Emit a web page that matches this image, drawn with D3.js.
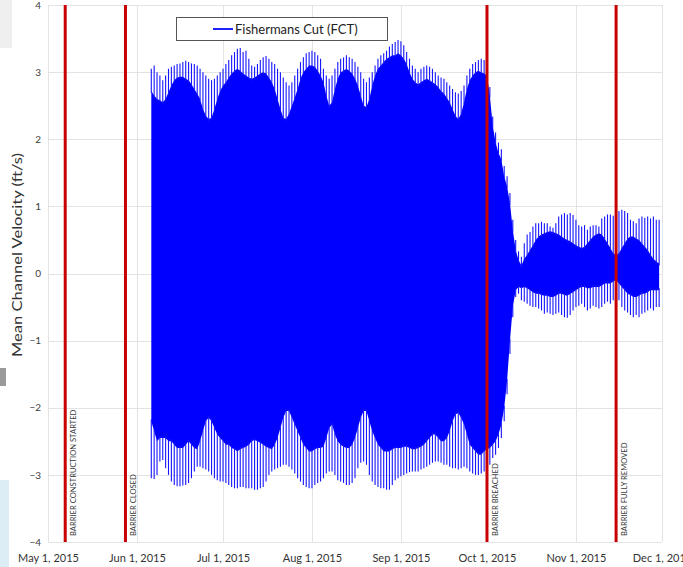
<!DOCTYPE html>
<html>
<head>
<meta charset="utf-8">
<script src="https://cdn.jsdelivr.net/npm/d3@7"></script>
<style>
  html, body { margin: 0; padding: 0; background: #fff; }
  svg { display: block; font-family: Lato, "Open Sans", sans-serif; }
</style>
</head>
<body>
<svg id="chart" width="683" height="567"></svg>
<script>
// ---------------- DATA ----------------
// Daily values starting Jun 6, 2015 (one value per day through Nov 30, 2015)
const seriesName = "Fishermans Cut (FCT)";
const seriesStart = "2015-06-06";

// daily maximum (flood peak) velocity, ft/s
const velMax = [
  3.05, 3.10, 3.00, 2.95, 2.88, 2.95, 3.05, 3.08, 3.10, 3.12,
  3.13, 3.15, 3.17, 3.15, 3.13, 3.12, 3.10, 3.05, 3.00, 2.95,
  2.90, 2.88, 2.90, 2.95, 3.00, 3.05, 3.12, 3.18, 3.25, 3.30,
  3.35, 3.36, 3.30, 3.32, 3.20, 3.10, 3.08, 3.12, 3.18, 3.22,
  3.24, 3.20, 3.15, 3.12, 3.05, 3.00, 2.92, 2.85, 2.80, 2.85,
  2.95, 3.05, 3.15, 3.22, 3.28, 3.30, 3.32, 3.30, 3.25, 3.20,
  3.05, 2.95, 2.90, 2.95, 3.05, 3.15, 3.20, 3.22, 3.25, 3.22,
  3.20, 3.15, 3.08, 3.00, 2.90, 2.85, 2.92, 3.00, 3.10, 3.20,
  3.25, 3.28, 3.32, 3.38, 3.42, 3.45, 3.48, 3.46, 3.40, 3.30,
  3.20, 3.10, 3.05, 3.00, 3.05, 3.08, 3.10, 3.08, 3.05, 3.00,
  2.95, 2.92, 2.90, 2.85, 2.80, 2.75, 2.70, 2.68, 2.72, 2.80,
  2.95, 3.05, 3.12, 3.15, 3.18, 3.20, 3.18, 3.10, 2.78, 2.34,
  2.10, 1.95, 1.85, 1.60, 1.45, 1.20, 0.80, 0.50, 0.33, 0.25,
  0.45, 0.58, 0.62, 0.70, 0.75, 0.75, 0.77, 0.75, 0.75, 0.70,
  0.68, 0.75, 0.85, 0.88, 0.90, 0.88, 0.90, 0.87, 0.80, 0.72,
  0.70, 0.72, 0.65, 0.70, 0.72, 0.72, 0.70, 0.82, 0.85, 0.88,
  0.88, 0.86, 0.85, 0.93, 0.95, 0.93, 0.90, 0.80, 0.78, 0.75,
  0.82, 0.85, 0.83, 0.85, 0.82, 0.85, 0.80, 0.80
];
// daily lower high tide (top of the dense band), ft/s
const velHiCore = [
  2.72, 2.65, 2.60, 2.58, 2.55, 2.60, 2.70, 2.80, 2.88, 2.92,
  2.93, 2.93, 2.90, 2.88, 2.82, 2.75, 2.68, 2.60, 2.45, 2.35,
  2.30, 2.32, 2.45, 2.60, 2.72, 2.80, 2.85, 2.92, 2.98, 3.02,
  3.05, 3.02, 2.98, 2.95, 2.92, 2.90, 2.92, 2.95, 2.98, 3.00,
  2.98, 2.92, 2.85, 2.75, 2.60, 2.45, 2.32, 2.30, 2.38, 2.50,
  2.62, 2.75, 2.90, 3.00, 3.05, 3.10, 3.10, 3.08, 3.02, 2.95,
  2.85, 2.65, 2.50, 2.55, 2.75, 2.90, 3.00, 3.02, 3.05, 3.02,
  2.98, 2.90, 2.80, 2.65, 2.50, 2.48, 2.60, 2.80, 2.95, 3.05,
  3.10, 3.15, 3.20, 3.22, 3.25, 3.25, 3.28, 3.25, 3.20, 3.12,
  3.00, 2.90, 2.85, 2.82, 2.85, 2.88, 2.90, 2.88, 2.85, 2.82,
  2.78, 2.72, 2.68, 2.62, 2.55, 2.45, 2.35, 2.30, 2.38, 2.55,
  2.75, 2.88, 2.95, 3.00, 3.02, 3.00, 2.98, 2.95, 2.65, 2.20,
  1.95, 1.80, 1.70, 1.45, 1.30, 1.05, 0.65, 0.35, 0.20, 0.12,
  0.22, 0.28, 0.35, 0.42, 0.50, 0.55, 0.58, 0.60, 0.62, 0.63,
  0.62, 0.60, 0.58, 0.55, 0.52, 0.50, 0.48, 0.45, 0.42, 0.40,
  0.38, 0.40, 0.45, 0.50, 0.55, 0.58, 0.60, 0.58, 0.52, 0.45,
  0.38, 0.30, 0.28, 0.30, 0.38, 0.45, 0.52, 0.55, 0.55, 0.52,
  0.50, 0.45, 0.40, 0.35, 0.28, 0.22, 0.18, 0.15
];
// daily higher low tide (bottom of the dense band), ft/s
const velLoCore = [
  -2.20, -2.35, -2.50, -2.45, -2.45, -2.45, -2.50, -2.50, -2.55, -2.60,
  -2.60, -2.60, -2.55, -2.50, -2.55, -2.60, -2.62, -2.50, -2.35, -2.20,
  -2.15, -2.20, -2.30, -2.40, -2.45, -2.50, -2.55, -2.55, -2.60, -2.62,
  -2.65, -2.62, -2.60, -2.58, -2.55, -2.50, -2.48, -2.50, -2.52, -2.55,
  -2.58, -2.60, -2.62, -2.55, -2.45, -2.30, -2.15, -2.05, -2.05, -2.15,
  -2.25, -2.35, -2.45, -2.55, -2.60, -2.65, -2.65, -2.62, -2.60, -2.60,
  -2.58, -2.45, -2.30, -2.25, -2.40, -2.50, -2.55, -2.58, -2.60, -2.60,
  -2.55, -2.45, -2.30, -2.15, -2.05, -2.05, -2.20, -2.35, -2.45, -2.55,
  -2.60, -2.65, -2.65, -2.65, -2.62, -2.60, -2.60, -2.60, -2.58, -2.58,
  -2.60, -2.62, -2.62, -2.60, -2.58, -2.55, -2.50, -2.45, -2.40, -2.40,
  -2.45, -2.50, -2.50, -2.45, -2.35, -2.20, -2.10, -2.08, -2.15, -2.25,
  -2.40, -2.55, -2.60, -2.65, -2.70, -2.70, -2.65, -2.62, -2.60, -2.55,
  -2.50, -2.40, -2.25, -2.00, -1.60, -1.00, -0.50, -0.25, -0.20, -0.22,
  -0.20, -0.22, -0.25, -0.28, -0.30, -0.30, -0.32, -0.33, -0.33, -0.35,
  -0.35, -0.33, -0.30, -0.30, -0.32, -0.33, -0.30, -0.28, -0.25, -0.22,
  -0.20, -0.20, -0.22, -0.22, -0.20, -0.20, -0.20, -0.18, -0.15, -0.15,
  -0.15, -0.12, -0.10, -0.15, -0.20, -0.25, -0.30, -0.32, -0.35, -0.35,
  -0.33, -0.30, -0.30, -0.28, -0.25, -0.25, -0.25, -0.25
];
// daily minimum (ebb peak) velocity, ft/s
const velMin = [
  -3.05, -3.06, -3.00, -2.80, -2.78, -2.90, -3.00, -3.10, -3.15, -3.17,
  -3.17, -3.16, -3.15, -3.12, -3.05, -2.95, -2.88, -2.88, -2.90, -2.92,
  -2.95, -3.00, -3.05, -3.08, -3.10, -3.10, -3.12, -3.15, -3.18, -3.20,
  -3.20, -3.18, -3.18, -3.20, -3.20, -3.20, -3.22, -3.22, -3.20, -3.18,
  -3.10, -3.00, -2.95, -2.92, -2.90, -2.88, -2.85, -2.85, -2.88, -2.92,
  -2.98, -3.05, -3.10, -3.15, -3.18, -3.20, -3.20, -3.15, -3.12, -3.10,
  -3.05, -2.98, -2.95, -2.95, -3.00, -3.08, -3.10, -3.12, -3.15, -3.15,
  -3.12, -3.05, -2.90, -2.82, -2.80, -2.85, -3.00, -3.10, -3.15, -3.18,
  -3.20, -3.20, -3.22, -3.22, -3.15, -3.08, -3.05, -3.02, -3.00, -2.98,
  -2.96, -2.95, -2.95, -2.95, -2.92, -2.90, -2.88, -2.85, -2.82, -2.80,
  -2.80, -2.82, -2.85, -2.85, -2.88, -2.90, -2.90, -2.92, -2.90, -2.88,
  -2.90, -2.95, -2.98, -3.00, -3.00, -2.98, -2.95, -2.90, -2.85, -2.75,
  -2.70, -2.60, -2.45, -2.20, -1.80, -1.20, -0.65, -0.35, -0.30, -0.40,
  -0.42, -0.45, -0.48, -0.50, -0.50, -0.52, -0.55, -0.60, -0.58, -0.60,
  -0.62, -0.60, -0.58, -0.62, -0.65, -0.66, -0.62, -0.55, -0.50, -0.48,
  -0.45, -0.50, -0.55, -0.52, -0.48, -0.50, -0.52, -0.50, -0.45, -0.42,
  -0.45, -0.40, -0.30, -0.40, -0.50, -0.55, -0.58, -0.62, -0.65, -0.62,
  -0.65, -0.60, -0.58, -0.55, -0.52, -0.55, -0.50, -0.50
];

// events (red vertical lines)
const eventDates  = ["2015-05-07", "2015-05-28", "2015-10-01", "2015-11-15"];
const eventLabels = ["BARRIER CONSTRUCTION STARTED", "BARRIER CLOSED", "BARRIER BREACHED", "BARRIER FULLY REMOVED"];

// axes
const xDomain = ["2015-05-01", "2015-12-01"];
const yTicks = [-4, -3, -2, -1, 0, 1, 2, 3, 4];
const yTitle = "Mean Channel Velocity (ft/s)";

// ---------------- DRAWING ----------------
const parse = d3.timeParse("%Y-%m-%d");
const svg = d3.select("#chart");
const M = { left: 48, right: 662, top: 5, bottom: 542 };

// screenshot edge artifacts
svg.append("rect").attr("x", 0).attr("y", 0).attr("width", 12).attr("height", 48).attr("fill", "#efefef");
svg.append("rect").attr("x", 0).attr("y", 480).attr("width", 9).attr("height", 87).attr("fill", "#dcedf5");
svg.append("rect").attr("x", 0).attr("y", 368).attr("width", 6).attr("height", 18).attr("fill", "#9a9a9a");

const x = d3.scaleTime().domain(xDomain.map(parse)).range([M.left, M.right]);
const y = d3.scaleLinear().domain([-4, 4]).range([M.bottom, M.top]);

const monthTicks = d3.timeMonth.range(parse(xDomain[0]), d3.timeDay.offset(parse(xDomain[1]), 1));

// grid
const grid = svg.append("g").attr("stroke", "#e3e3e3").attr("stroke-width", 1);
grid.selectAll("line.h").data(yTicks).join("line")
  .attr("x1", M.left).attr("x2", M.right)
  .attr("y1", d => Math.round(y(d)) + 0.5).attr("y2", d => Math.round(y(d)) + 0.5);
grid.selectAll("line.v").data(monthTicks).join("line")
  .attr("x1", d => Math.round(x(d)) + 0.5).attr("x2", d => Math.round(x(d)) + 0.5)
  .attr("y1", M.top).attr("y2", M.bottom);

// data
const start = parse(seriesStart);
const rows = velMax.map((v, i) => ({
  date: d3.timeDay.offset(start, i),
  max: v, hi: velHiCore[i], lo: velLoCore[i], min: velMin[i]
}));

svg.append("clipPath").attr("id", "clip").append("rect")
  .attr("x", M.left).attr("y", M.top).attr("width", M.right - M.left).attr("height", M.bottom - M.top);

const dataG = svg.append("g").attr("clip-path", "url(#clip)");
const area = d3.area().x(d => x(d.date)).y0(d => y(d.lo)).y1(d => y(d.hi));
dataG.append("path").datum(rows).attr("d", area).attr("fill", "#0000ff");

dataG.selectAll("line.up").data(rows).join("line")
  .attr("x1", d => x(d.date)).attr("x2", d => x(d.date))
  .attr("y1", d => y(d.hi) + 2).attr("y2", d => y(d.max))
  .attr("stroke", "#1515ff").attr("stroke-width", 1.1);
dataG.selectAll("line.dn").data(rows).join("line")
  .attr("x1", d => x(d.date)).attr("x2", d => x(d.date))
  .attr("y1", d => y(d.lo) - 2).attr("y2", d => y(d.min))
  .attr("stroke", "#1515ff").attr("stroke-width", 1.1);

// events
const events = eventDates.map((d, i) => ({ date: parse(d), label: eventLabels[i] }));
svg.selectAll("line.ev").data(events).join("line")
  .attr("x1", d => x(d.date)).attr("x2", d => x(d.date))
  .attr("y1", M.top).attr("y2", M.bottom)
  .attr("stroke", "#c80000").attr("stroke-width", 3);
svg.selectAll("text.ev").data(events).join("text")
  .attr("transform", d => `translate(${x(d.date) + 11},${M.bottom - 6}) rotate(-90)`)
  .attr("font-size", 7.6).attr("fill", "#3a3a3a")
  .text(d => d.label);

// y axis labels
const yAxis = d3.axisLeft(y).tickValues(yTicks).tickSize(0).tickPadding(7).tickFormat(d3.format("d"));
const yg = svg.append("g").attr("transform", `translate(${M.left},0)`).call(yAxis);
yg.select(".domain").remove();
yg.selectAll("text").attr("font-size", 10).attr("fill", "#404040").attr("font-family", "Lato, sans-serif");

// x axis labels
const xAxis = d3.axisBottom(x).tickValues(monthTicks).tickSize(0).tickPadding(12).tickFormat(d3.timeFormat("%b %-d, %Y"));
const xg = svg.append("g").attr("transform", `translate(0,${M.bottom})`).call(xAxis);
xg.select(".domain").remove();
xg.selectAll("text").attr("font-size", 11).attr("fill", "#333").attr("font-family", "Lato, sans-serif");

// y title
svg.append("text")
  .attr("transform", `translate(22,255) rotate(-90)`)
  .attr("text-anchor", "middle").attr("font-size", 14).attr("fill", "#333")
  .attr("textLength", 204).attr("lengthAdjust", "spacingAndGlyphs")
  .text(yTitle);

// legend
const lg = svg.append("g");
lg.append("rect").attr("x", 176.5).attr("y", 17.5).attr("width", 211).attr("height", 23)
  .attr("fill", "#fff").attr("stroke", "#555").attr("stroke-width", 1);
lg.append("line").attr("x1", 213).attr("x2", 233).attr("y1", 29).attr("y2", 29)
  .attr("stroke", "#2020ff").attr("stroke-width", 2);
lg.append("text").attr("x", 235).attr("y", 34).attr("font-size", 13).attr("fill", "#222")
  .text(seriesName);
</script>
</body>
</html>
